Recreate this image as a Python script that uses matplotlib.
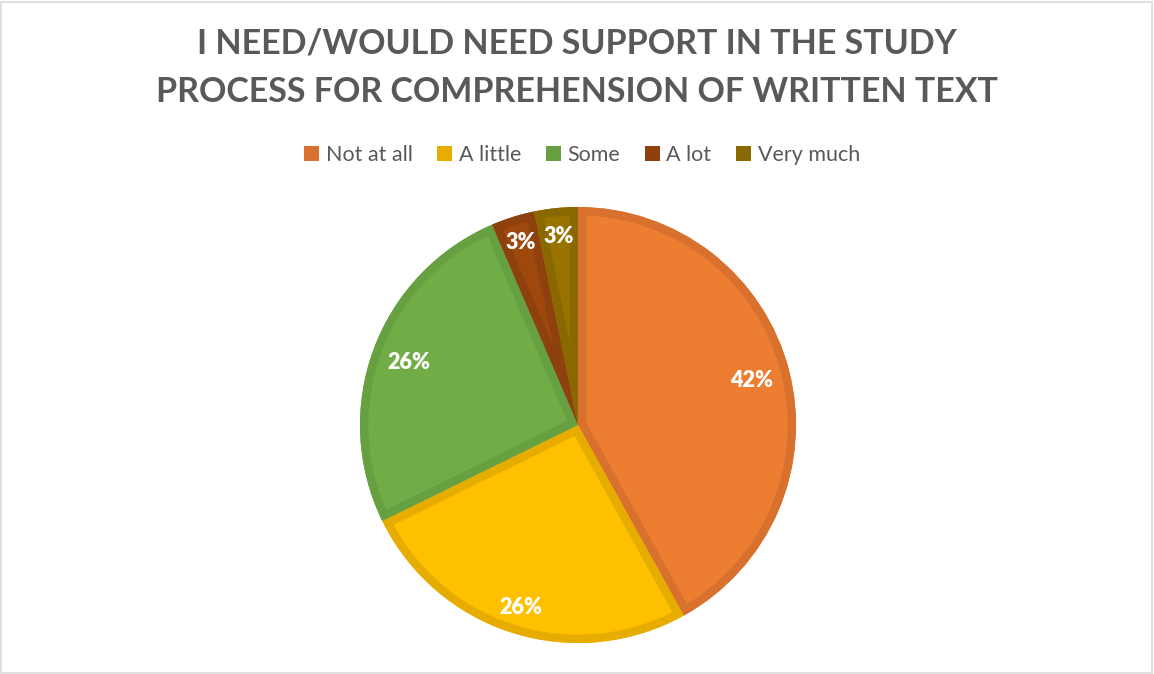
import matplotlib
matplotlib.use("Agg")
import matplotlib.pyplot as plt
from matplotlib.patches import Patch, Rectangle, Wedge
import numpy as np

# Survey responses (counts) per answer category
categories = ["Not at all", "A little", "Some", "A lot", "Very much"]
counts = [13, 8, 8, 1, 1]
fill_colors = ["#ED7D31", "#FFC000", "#70AD47", "#9E480E", "#997300"]
edge_colors = ["#D8712D", "#E6AD00", "#66A040", "#8E410D", "#8A6800"]
label_radius = [0.82, 0.876, 0.826, 0.877, 0.87]

title = "I NEED/WOULD NEED SUPPORT IN THE STUDY\nPROCESS FOR COMPREHENSION OF WRITTEN TEXT"

plt.rcParams["font.family"] = ["Lato", "DejaVu Sans"]

W, H = 1154, 674
fig = plt.figure(figsize=(W / 100, H / 100), dpi=100)
fig.patch.set_facecolor("white")

# light frame around the chart area
fig.patches.append(Rectangle((1 / W, 1 / H), 1 - 3 / W, 1 - 3 / H, transform=fig.transFigure,
                             fill=False, edgecolor="#D9D9D9", linewidth=1.2))

cx, cy, r = 578, 425, 218
ax = fig.add_axes([(cx - r) / W, (H - cy - r) / H, 2 * r / W, 2 * r / H])

wedges, _ = ax.pie(counts, colors=fill_colors, startangle=90, counterclock=False,
                   radius=1.0, center=(0, 0), frame=False,
                   wedgeprops=dict(linewidth=0, edgecolor="none"))
ax.set_xlim(-1, 1)
ax.set_ylim(-1, 1)
ax.set_aspect("equal")
ax.axis("off")

total = sum(counts)
for w, ec, lr, c in zip(wedges, edge_colors, label_radius, counts):
    # darker inner border: thick outline clipped to the wedge's own shape
    border = Wedge(w.center, w.r, w.theta1, w.theta2, fill=False,
                   edgecolor=ec, linewidth=12, joinstyle="miter")
    ax.add_patch(border)
    border.set_clip_path(w)
    mid = np.deg2rad((w.theta1 + w.theta2) / 2)
    ax.text(lr * np.cos(mid), lr * np.sin(mid), f"{round(100 * c / total)}%",
            ha="center", va="center", color="white", fontsize=15.5, fontweight="heavy",
            zorder=5)

fig.text(0.5, 1 - 68 / H, title, ha="center", va="center", fontsize=24.5,
         fontweight="bold", color="#595959", linespacing=1.62)

handles = [Patch(facecolor=ec, edgecolor="none") for ec in edge_colors]
fig.legend(handles, categories, loc="center", bbox_to_anchor=(582 / W, 1 - 155 / H),
           ncol=5, frameon=False, fontsize=15.5, handlelength=0.7, handleheight=0.7,
           handletextpad=0.3, columnspacing=1.15, labelcolor="#595959")

fig.savefig("out.png", dpi=100, facecolor="white")
